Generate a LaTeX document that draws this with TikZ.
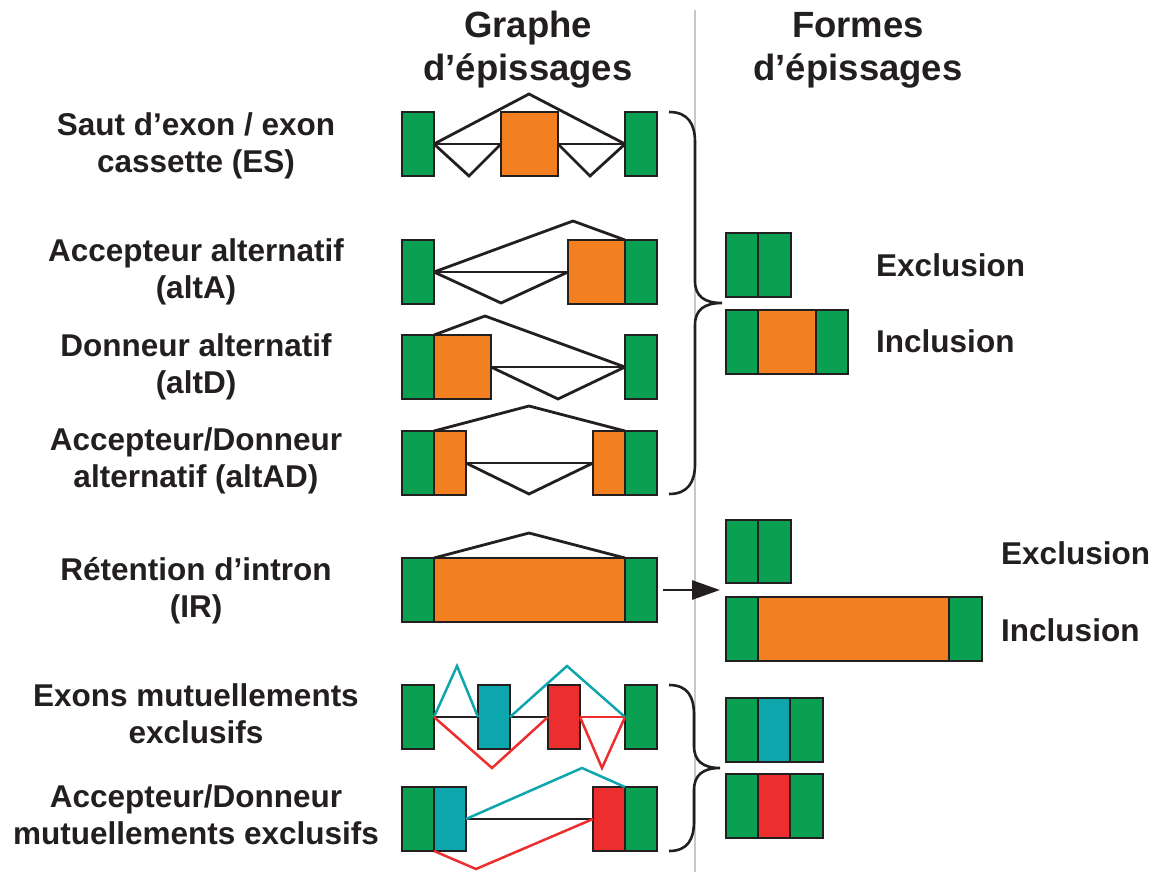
\documentclass[tikz,border=0pt]{standalone}
\usepackage{fontspec}
\setmainfont{Liberation Sans}
\usetikzlibrary{arrows.meta}
\definecolor{ink}{RGB}{35,31,32}
\definecolor{eg}{RGB}{10,160,82}
\definecolor{eo}{RGB}{242,128,33}
\definecolor{et}{RGB}{14,166,173}
\definecolor{er}{RGB}{236,47,46}
\definecolor{sep}{RGB}{200,200,200}
\tikzset{
  box/.style={draw=ink, line width=2.8pt, inner sep=0pt, outer sep=0pt, anchor=north west, minimum height=64pt},
  gbox/.style={box, fill=eg},
  obox/.style={box, fill=eo},
  tbox/.style={box, fill=et},
  rbox/.style={box, fill=er},
  link/.style={draw=ink, line width=2.8pt, line join=miter},
  tlink/.style={draw=et, line width=2.5pt},
  rlink/.style={draw=er, line width=2.5pt},
  brace/.style={draw=ink, line width=2.6pt},
  lbl/.style={text=ink, font=\bfseries\fontsize{31.5}{36.5}\selectfont, align=center, anchor=base, inner sep=0pt},
  hdr/.style={text=ink, font=\bfseries\fontsize{36.5}{43}\selectfont, align=center, anchor=base, inner sep=0pt},
  form/.style={text=ink, font=\bfseries\fontsize{31.5}{36.5}\selectfont, anchor=base west, inner sep=0pt},
}
\begin{document}
\begin{tikzpicture}[x=1pt,y=-1pt]
\useasboundingbox[fill=white] (0,0) rectangle (1158,872);
% separator
\draw[sep, line width=1.5pt] (695,10) -- (695,872);
% headers (anchor base = last line)
\node[hdr] (h1) at (528,81) {Graphe\\d’épissages};
\node[hdr] (h2) at (858,81) {Formes\\d’épissages};
% left labels
\node[lbl] (l1) at (196,172) {Saut d’exon / exon\\cassette (ES)};
\node[lbl] (l2) at (196,298) {Accepteur alternatif\\(altA)};
\node[lbl] (l3) at (196,393) {Donneur alternatif\\(altD)};
\node[lbl] (l4) at (196,487) {Accepteur/Donneur\\alternatif (altAD)};
\node[lbl] (l5) at (196,617) {Rétention d’intron\\(IR)};
\node[lbl] (l6) at (196,743) {Exons mutuellements\\exclusifs};
\node[lbl] (l7) at (196,844) {Accepteur/Donneur\\mutuellements exclusifs};

% ---- ES ----
\node[gbox, minimum width=32pt] (es1) at (402,112) {};
\node[obox, minimum width=57pt] (es2) at (501,112) {};
\node[gbox, minimum width=32pt] (es3) at (625,112) {};
\coordinate (esT) at (529,94);
\coordinate (esB1) at (469,176);
\coordinate (esB2) at (590,176);
\draw[link] (es1.east) -- (es2.west);
\draw[link] (es2.east) -- (es3.west);
\draw[link] (es1.east) -- (esT) -- (es3.west);
\draw[link] (es1.east) -- (esB1) -- (es2.west);
\draw[link] (es2.east) -- (esB2) -- (es3.west);

% ---- altA ----
\node[gbox, minimum width=32pt] (a1) at (402,240) {};
\node[obox, minimum width=57pt] (a2) at (568,240) {};
\node[gbox, minimum width=32pt] (a3) at (625,240) {};
\coordinate (aT) at (573,221);
\coordinate (aB) at (501,303);
\draw[link] (a1.east) -- (a2.west);
\draw[link] (a1.east) -- (aT) -- (a3.north west);
\draw[link] (a1.east) -- (aB) -- (a2.west);

% ---- altD ----
\node[gbox, minimum width=32pt] (d1) at (402,335) {};
\node[obox, minimum width=57pt] (d2) at (434,335) {};
\node[gbox, minimum width=32pt] (d3) at (625,335) {};
\coordinate (dT) at (485,316);
\coordinate (dB) at (558,399);
\draw[link] (d2.east) -- (d3.west);
\draw[link] (d1.north east) -- (dT) -- (d3.west);
\draw[link] (d2.east) -- (dB) -- (d3.west);

% ---- altAD ----
\node[gbox, minimum width=32pt] (ad1) at (402,431) {};
\node[obox, minimum width=32pt] (ad2) at (434,431) {};
\node[obox, minimum width=32pt] (ad3) at (593,431) {};
\node[gbox, minimum width=32pt] (ad4) at (625,431) {};
\coordinate (adT) at (529,406);
\coordinate (adB) at (529,494);
\draw[link] (ad2.east) -- (ad3.west);
\draw[link] (ad1.north east) -- (adT) -- (ad4.north west);
\draw[link] (ad2.east) -- (adB) -- (ad3.west);

% ---- IR ----
\node[gbox, minimum width=32pt] (ir1) at (402,558) {};
\node[obox, minimum width=191pt] (ir2) at (434,558) {};
\node[gbox, minimum width=32pt] (ir3) at (625,558) {};
\coordinate (irT) at (529,533);
\draw[link] (ir1.north east) -- (irT) -- (ir3.north west);
\coordinate (irTip) at (720,590);
\draw[link, shorten <=6pt, -{Triangle[length=28pt,width=19pt]}] (ir3.east) -- (irTip);

% ---- MXE ----
\node[gbox, minimum width=32pt] (m1) at (402,685) {};
\node[tbox, minimum width=32pt] (m2) at (478,685) {};
\node[rbox, minimum width=32pt] (m3) at (548,685) {};
\node[gbox, minimum width=32pt] (m4) at (625,685) {};
\coordinate (mT1) at (457,666);
\coordinate (mT2) at (567,666);
\coordinate (mR1) at (492,768);
\coordinate (mR2) at (602,768);
\draw[link] (m1.east) -- (m2.west);
\draw[link] (m2.east) -- (m3.west);
\draw[rlink] (m3.east) -- (m4.west);
\draw[tlink] (m1.east) -- (mT1) -- (m2.west);
\draw[tlink] (m2.east) -- (mT2) -- (m4.west);
\draw[rlink] (m1.east) -- (mR1) -- (m3.west);
\draw[rlink] (m3.east) -- (mR2) -- (m4.west);

% ---- MXE A/D ----
\node[gbox, minimum width=32pt] (x1) at (402,787) {};
\node[tbox, minimum width=32pt] (x2) at (434,787) {};
\node[rbox, minimum width=32pt] (x3) at (593,787) {};
\node[gbox, minimum width=32pt] (x4) at (625,787) {};
\coordinate (xT) at (582,768);
\coordinate (xB) at (476,869);
\draw[link] (x2.east) -- (x3.west);
\draw[tlink] (x2.east) -- (xT) -- (x4.north west);
\draw[rlink] (x2.south west) -- (xB) -- (x3.west);

% ---- braces ----
\draw[brace] (669,112) .. controls (688,112) and (695,124) .. (695,142) -- (695,281)
  .. controls (695,296) and (704,303) .. (722,303)
  .. controls (704,303) and (695,310) .. (695,325) -- (695,464)
  .. controls (695,482) and (688,494) .. (669,494);
\draw[brace] (669,685) .. controls (688,685) and (694,697) .. (694,715) -- (694,746)
  .. controls (694,761) and (703,768) .. (720,768)
  .. controls (703,768) and (694,775) .. (694,790) -- (694,821)
  .. controls (694,839) and (688,851) .. (669,851);

% ---- forms ES group ----
\node[gbox, minimum width=32pt] (f1a) at (726,233) {};
\node[gbox, minimum width=33pt] (f1b) at (758,233) {};
\node[gbox, minimum width=32pt] (f2a) at (726,310) {};
\node[obox, minimum width=58pt] (f2b) at (758,310) {};
\node[gbox, minimum width=32pt] (f2c) at (816,310) {};
\node[form] (fe1) at (876,276) {Exclusion};
\node[form] (fi1) at (876,352) {Inclusion};

% ---- forms IR ----
\node[gbox, minimum width=32pt, minimum height=63pt] (g1a) at (726,520) {};
\node[gbox, minimum width=33pt, minimum height=63pt] (g1b) at (758,520) {};
\node[gbox, minimum width=32pt] (g2a) at (726,597) {};
\node[obox, minimum width=191pt] (g2b) at (758,597) {};
\node[gbox, minimum width=33pt] (g2c) at (949,597) {};
\node[form] (fe2) at (1001,564) {Exclusion};
\node[form] (fi2) at (1001,641) {Inclusion};

% ---- forms MXE ----
\node[gbox, minimum width=32pt] (k1a) at (726,698) {};
\node[tbox, minimum width=32pt] (k1b) at (758,698) {};
\node[gbox, minimum width=33pt] (k1c) at (790,698) {};
\node[gbox, minimum width=32pt] (k2a) at (726,774) {};
\node[rbox, minimum width=32pt] (k2b) at (758,774) {};
\node[gbox, minimum width=33pt] (k2c) at (790,774) {};
\end{tikzpicture}
\end{document}
